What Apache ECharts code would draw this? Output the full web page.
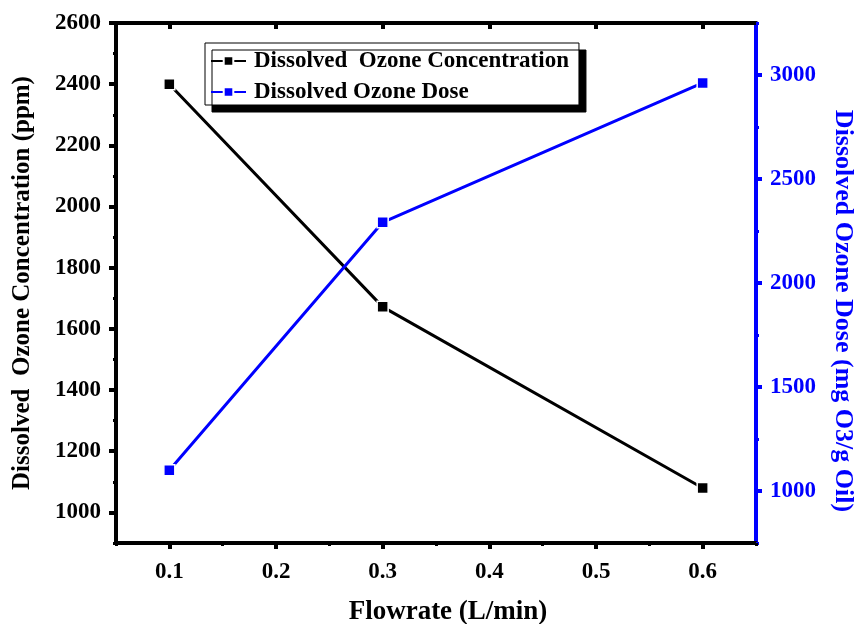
<!DOCTYPE html>
<html>
<head>
<meta charset="utf-8">
<script src="https://cdn.jsdelivr.net/npm/echarts@6/dist/echarts.min.js"></script>
<style>html,body{margin:0;padding:0;background:#fff}#c{width:857px;height:624px}</style>
</head>
<body>
<div id="c"></div>
<script>
const flowrates = [0.1, 0.3, 0.6];
const concentration = [2400, 1672, 1080];
const dose = [1100, 2292, 2962];
const xTickLabels = [0.1, 0.2, 0.3, 0.4, 0.5, 0.6];
const xMinorTicks = [0.05, 0.15, 0.25, 0.35, 0.45, 0.55, 0.65];
const leftTickLabels = [1000, 1200, 1400, 1600, 1800, 2000, 2200, 2400, 2600];
const leftMinorTicks = [900, 1100, 1300, 1500, 1700, 1900, 2100, 2300, 2500];
const rightTickLabels = [1000, 1500, 2000, 2500, 3000];
const rightMinorTicks = [750, 1250, 1750, 2250, 2750, 3250];
const seriesNames = ['Dissolved  Ozone Concentration', 'Dissolved Ozone Dose'];

const FONT = 'Liberation Serif';
const BLUE = '#0000ff';
const lblStyle = {fontFamily: FONT, fontWeight: 'bold', fontSize: 23};
const plain = v => String(v);

const chart = echarts.init(document.getElementById('c'));
const hidden = {show: false};
chart.setOption({
  animation: false,
  backgroundColor: '#fff',
  grid: {left: 116, right: 101, top: 23, bottom: 81, containLabel: false, outerBoundsMode: 'none'},
  legend: {
    orient: 'vertical', left: 205, top: 43,
    padding: [6, 10, 1, 5], itemGap: 7,
    itemWidth: 35, itemHeight: 12,
    backgroundColor: '#fff', borderColor: '#000', borderWidth: 1,
    shadowColor: '#000', shadowBlur: 0, shadowOffsetX: 7, shadowOffsetY: 7,
    textStyle: {fontFamily: FONT, fontWeight: 'bold', fontSize: 23, lineHeight: 24, color: '#000', padding: [0,0,0,3]},
    data: seriesNames
  },
  xAxis: [
    {type: 'value', position: 'bottom', min: 0.05, max: 0.65,
     name: 'Flowrate (L/min)', nameLocation: 'middle', nameGap: 56,
     nameTextStyle: {fontFamily: FONT, fontWeight: 'bold', fontSize: 27, color: '#000', padding: [0,0,0,24]},
     axisLine: {show: true, onZero: false, lineStyle: {color: '#000', width: 4}},
     axisTick: {show: true, customValues: xTickLabels, length: 6, lineStyle: {width: 4, color: '#000'}},
     axisLabel: {customValues: xTickLabels, margin: 18, color: '#000', ...lblStyle, formatter: v => v.toFixed(1)},
     splitLine: hidden},
    {type: 'value', position: 'bottom', min: 0.05, max: 0.65,
     axisLine: {show: false, onZero: false},
     axisTick: {show: true, customValues: xMinorTicks, length: 3, lineStyle: {width: 3, color: '#000'}},
     axisLabel: hidden, splitLine: hidden},
    {type: 'value', position: 'top', min: 0.05, max: 0.65,
     axisLine: {show: true, onZero: false, lineStyle: {color: '#000', width: 4}},
     axisTick: {show: true, inside: true, customValues: xTickLabels, length: 6, lineStyle: {width: 4, color: '#000'}},
     axisLabel: hidden, splitLine: hidden}
  ],
  yAxis: [
    {type: 'value', position: 'left', min: 900, max: 2600,
     name: 'Dissolved  Ozone Concentration (ppm)', nameLocation: 'middle', nameGap: 81, nameRotate: 90,
     nameTextStyle: {fontFamily: FONT, fontWeight: 'bold', fontSize: 25, color: '#000'},
     axisLine: {show: true, onZero: false, lineStyle: {color: '#000', width: 4}},
     axisTick: {show: true, customValues: leftTickLabels, length: 7, lineStyle: {width: 4, color: '#000'}},
     axisLabel: {customValues: leftTickLabels, margin: 15, color: '#000', ...lblStyle, formatter: plain},
     splitLine: hidden},
    {type: 'value', position: 'right', min: 750, max: 3250,
     name: 'Dissolved Ozone Dose (mg O3/g Oil)', nameLocation: 'middle', nameGap: 74, nameRotate: -90,
     nameTextStyle: {fontFamily: FONT, fontWeight: 'bold', fontSize: 26, color: BLUE, padding: [0,0,0,56]},
     axisLine: {show: true, onZero: false, lineStyle: {color: BLUE, width: 4}},
     axisTick: {show: true, customValues: rightTickLabels, length: 6, lineStyle: {width: 4, color: BLUE}},
     axisLabel: {customValues: rightTickLabels, margin: 14, color: BLUE, ...lblStyle, formatter: plain},
     splitLine: hidden},
    {type: 'value', position: 'left', min: 900, max: 2600,
     axisLine: {show: false, onZero: false},
     axisTick: {show: true, customValues: leftMinorTicks, length: 3, lineStyle: {width: 3, color: '#000'}},
     axisLabel: hidden, splitLine: hidden},
    {type: 'value', position: 'right', min: 750, max: 3250,
     axisLine: {show: false, onZero: false},
     axisTick: {show: true, customValues: rightMinorTicks, length: 3, lineStyle: {width: 3, color: BLUE}},
     axisLabel: hidden, splitLine: hidden}
  ],
  series: [
    {name: seriesNames[0], type: 'line', xAxisIndex: 0, yAxisIndex: 0,
     data: flowrates.map((x, i) => [x, concentration[i]]),
     symbol: 'rect', symbolSize: 11,
     lineStyle: {color: '#000', width: 3},
     itemStyle: {color: '#000', borderColor: '#fff', borderWidth: 1.5}},
    {name: seriesNames[1], type: 'line', xAxisIndex: 0, yAxisIndex: 1,
     data: flowrates.map((x, i) => [x, dose[i]]),
     symbol: 'rect', symbolSize: 11,
     lineStyle: {color: BLUE, width: 3},
     itemStyle: {color: BLUE, borderColor: '#fff', borderWidth: 1.5}}
  ]
});
</script>
</body>
</html>
